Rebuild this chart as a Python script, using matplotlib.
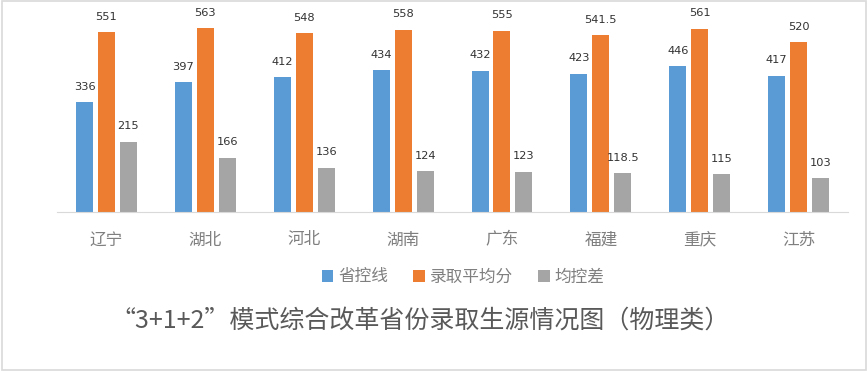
import numpy as np
import matplotlib
matplotlib.use("Agg")
import matplotlib.pyplot as plt
from matplotlib.patches import Rectangle

plt.rcParams['font.family'] = ['Noto Sans CJK SC', 'DejaVu Sans']

provinces = ["辽宁", "湖北", "河北", "湖南", "广东", "福建", "重庆", "江苏"]
series_names = ["省控线", "录取平均分", "均控差"]
control_line = [336, 397, 412, 434, 432, 423, 446, 417]
avg_score = [551, 563, 548, 558, 555, 541.5, 561, 520]
avg_diff = [215, 166, 136, 124, 123, 118.5, 115, 103]
colors = ["#5B9BD5", "#ED7D31", "#A5A5A5"]
title = "“3+1+2”模式综合改革省份录取生源情况图（物理类）"

fig = plt.figure(figsize=(8.68, 3.71), dpi=100)
ax = fig.add_axes([0.0657, 0.4286, 0.9113, 0.5284])

x = np.arange(len(provinces))
width = 0.172
step = 0.222

for i, (vals, name) in enumerate(zip([control_line, avg_score, avg_diff], series_names)):
    bars = ax.bar(x + (i - 1) * step, vals, width, color=colors[i], label=name)
    for b, v in zip(bars, vals):
        txt = ("%g" % v)
        ax.annotate(txt, (b.get_x() + b.get_width() / 2, b.get_height()),
                    xytext=(0, 7.5), textcoords="offset points",
                    ha="center", va="bottom", fontsize=8.2, color="#333333",
                    family="DejaVu Sans")

ax.set_xlim(-0.5, len(provinces) - 0.5)
ax.set_ylim(0, 600)
ax.set_xticks(x)
ax.set_xticklabels(provinces, fontsize=12, color="#7f7f7f")
ax.tick_params(axis="x", length=0, pad=14)
ax.set_yticks([])
for s in ["top", "right", "left"]:
    ax.spines[s].set_visible(False)
ax.spines["bottom"].set_color("#d9d9d9")

fig.legend(loc="center", bbox_to_anchor=(463 / 868, 1 - 277 / 371), ncol=3,
           frameon=False, fontsize=12, labelcolor="#7f7f7f",
           handlelength=0.7, handleheight=0.7, handletextpad=0.3, columnspacing=1.5)

fig.text(420 / 868, 1 - 321 / 371, title, ha="center", va="center",
         fontsize=18, color="#595959")

fig.patches.append(Rectangle((0.002, 0.003), 0.996, 0.994, transform=fig.transFigure,
                             fill=False, edgecolor="#d9d9d9", linewidth=1.2))

fig.savefig("out.png", dpi=100)
